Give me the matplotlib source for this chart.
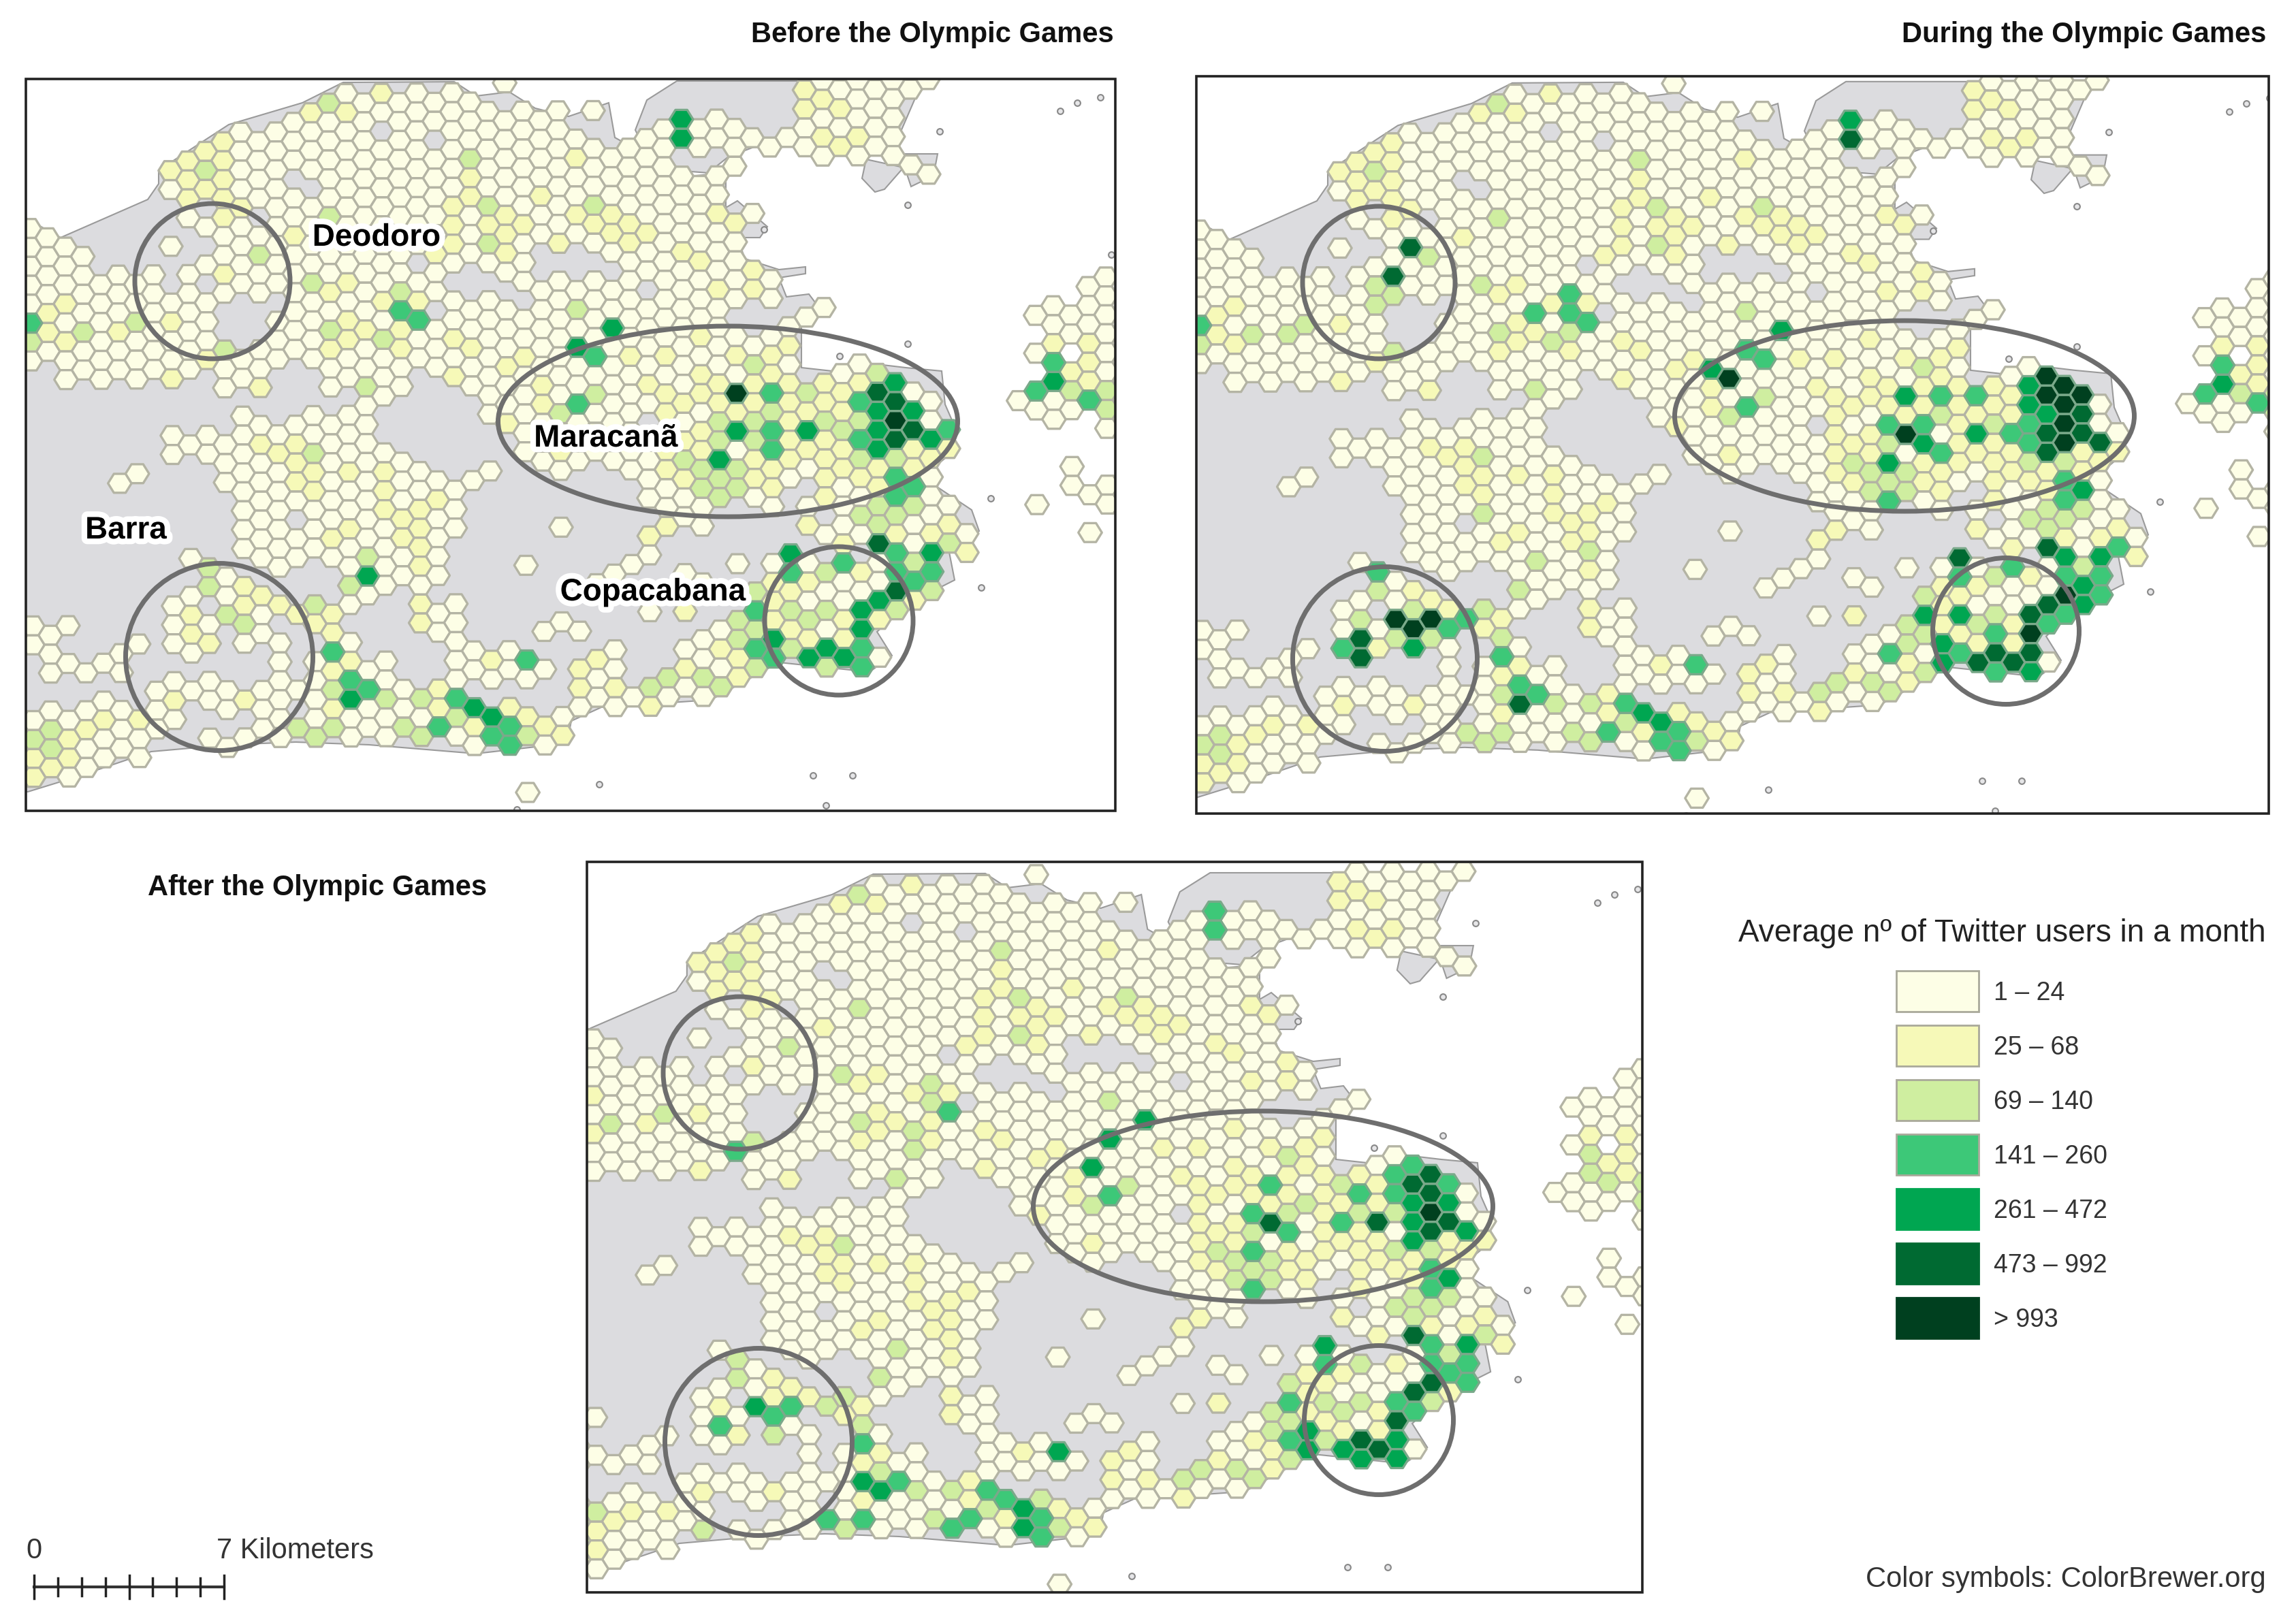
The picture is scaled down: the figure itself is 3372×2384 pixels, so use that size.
import re
import matplotlib
matplotlib.use("Agg")
import matplotlib.pyplot as plt
import matplotlib.patheffects as pe
from matplotlib.collections import PolyCollection
from matplotlib.patches import Ellipse, Polygon, Rectangle

plt.rcParams['font.family'] = ['Liberation Sans', 'DejaVu Sans']

# classes and legend
class_labels = ["1 – 24", "25 – 68", "69 – 140", "141 – 260", "261 – 472", "473 – 992", "> 993"]
class_colors = ["#fdfee6", "#f6f9b8", "#cfeea0", "#3dc878", "#00a651", "#006a32", "#00401f"]

# hex cells present, one entry per grid column: runs of half-row numbers
land_cols = [
    "14-28,56-58,66-72", "15-27,57-61,65-71", "16-30,56,60,66-72", "17-29,61,65-71",
    "20-30,60,64-70", "19-29,41,59-61,65-69", "20-30,40,58,66-70", "19-29,63-67",
    "8-10,16,22-30,36-38,54-58,62-66", "7-13,19-29,37,49,53-59,63",
    "6-10,14,18,22-28,36-38,50-52,56-58,62-64,68", "5-21,27-31,37-41,51-55,63-65,69",
    "4-20,28-30,34-48,52-58,64,68", "5-11,15-21,27-31,35-49,53-57,63-67",
    "4-20,24-28,36-50,54,58-68", "3-7,11-27,35-43,47-49,55,63,67",
    "2-8,12-28,34-48,54-56,60-68", "1-31,35-49,55-67", "0-30,34-54,58-68", "1-53,61-67",
    "0-2,6-32,38-52,60-68", "1-31,39-51,63-67", "0-16,20-28,40-54,56,64-68",
    "1-3,7-21,25-29,41-51,55-57,63-67", "0-18,22-30,42-46,54-68", "1-17,23-31,41,59-61,65-69",
    "2-18,22-34,40,60-62,66-68", "-1,3-19,23-35,59-61,65-69", "2-20,24-38,50,60-62,66-68,74",
    "3-15,21-39,57,61,67-69", "2-16,20-40,46,56,66-68", "5-15,21-39,57,61-65",
    "2,6-16,20-38,52,60-64", "7-17,21-39,51,59-65", "6-40,50,64",
    "5-19,23-33,37-43,47-49,55,63-65", "4-46,62-64", "3-5,9-45,51,55,59-63",
    "4-6,10-46,52,58-64", "3-5,9-43,57-63", "4-8,14-22,26-42,50,56-62",
    "5,13,19-21,27-43,53-61", "6,20-22,26-44,50-60", "5,25-41,49-59",
    "0-6,24,32-40,44-46,50-60", "-1-7,23,31-43,47,51-61", "0-6,30-48,52-60",
    "-1-7,29-47,51-61", "0-6,30-56,60", "-1-7,31-55", "0,8,32-54", "-1,9,33-53",
    "36-38,44-48", "47-49", "", "", "33", "24,28,32-34,44", "23-35",
    "24-26,30-34,40-42", "21-33,43,47", "20-36,42-44",
]

# pale classes shared by the three maps
cells_class2 = [
    (8,8),(9,7),(9,9),(9,11),(10,6),(10,10),(11,5),(11,7),(11,9),(11,11),(11,13),(11,19),(12,12),
    (8,24),(10,28),(8,30),(13,31),(2,22),(1,23),(1,25),(2,26),(5,25),(15,15),(18,20),(17,21),
    (20,22),(22,22),(18,24),(19,25),(17,27),(18,26),(21,25),(21,27),(24,26),(25,27),(28,28),
    (27,29),(24,30),(29,31),(29,33),(27,35),(20,0),(16,2),(18,2),(25,9),(25,11),(24,12),(24,14),
    (24,16),(26,14),(27,13),(27,15),(28,14),(27,17),(29,11),(30,16),(31,7),(23,17),
    (31,13),(33,13),(32,14),(33,15),(34,14),(34,16),(35,15),(37,17),(38,18),(39,13),(36,19),
    (36,21),(39,21),(40,19),(41,21),(40,14),(41,19),(44,0),(44,2),(45,1),(46,2),(45,5),(47,5),(46,6),
    (13,37),(15,37),(15,39),(14,38),(8,64),(10,58),(12,52),(12,54),(9,55),(9,57),(13,53),(14,54),
    (15,55),(16,56),(12,64),(6,66),(4,66),(3,67),(2,68),(2,70),(1,67),(1,71),(0,70),(0,72),
    (17,55),(17,57),(17,61),(17,65),(18,60),(20,40),(20,42),(20,44),(21,45),(21,47),(22,44),
    (22,46),(22,48),(22,50),(23,43),(22,54),(22,56),(15,41),(16,40),(16,42),(18,40),(18,46),
    (19,49),(17,47),(27,65),(26,60),(25,67),(29,67),(30,68),(28,66),(23,63),(23,65),
    (36,46),(35,47),(37,55),(32,60),(31,61),(31,63),(33,63),(37,61),(35,65),(39,59),(40,60),(40,62),
    (42,52),(42,54),(43,53),(46,56),(48,56),(50,54),(42,56),(43,57),(44,52),(44,58),(46,58),
    (47,51),(45,43),(44,46),(46,48),(49,47),(51,47),(52,46),(53,49),(48,42),(59,30),(60,29),(60,31),
    (58,27),(60,27),(30,38),(38,30),(34,28),(35,31),(37,33),(39,31),(41,33),(45,33),(46,34),(44,34),
    (36,28),(36,32),(36,34),(38,26),(38,32),(38,36),(39,33),(40,28),(40,34),(41,31),(42,28),(42,30),
    (42,40),(43,27),(43,31),(43,33),(43,35),(43,37),(44,38),(45,31),(45,37),(46,32),(46,38),(46,40),
    (47,31),(47,41),(48,40),(50,38),(50,40),(51,39),(52,38),(37,37),(37,41),(38,38),(41,39),(41,41),
    (43,39),(45,39),(45,41),(42,42),(44,42),(36,36),(36,38),(36,40),
]
cells_class3 = [
    (10,8),(17,1),(17,13),(13,17),(11,27),(16,20),(3,25),(6,24),(0,26),(17,25),(20,26),(21,21),
    (19,31),(25,7),(26,12),(26,16),(30,34),(16,38),(10,50),(10,52),(12,56),(11,55),(18,52),(19,49),
    (1,67),(1,69),(0,68),(16,54),(17,63),(17,67),(15,67),(16,68),(20,64),(21,67),(22,64),(22,68),
    (24,66),(28,68),(32,12),(31,23),(32,32),(30,34),(41,29),(44,32),(42,34),(41,35),(39,35),(39,37),
    (41,37),(45,35),(46,36),(47,35),(47,39),(49,39),(48,30),(40,40),(37,39),(38,40),(38,42),(39,41),
    (39,43),(40,42),(45,51),(43,55),(45,55),(49,55),(44,56),(43,59),(45,61),(41,53),(41,57),(41,61),
    (40,56),(40,58),(35,63),(36,62),(38,62),(39,63),(48,44),(48,46),(49,45),(50,44),(50,50),(51,53),
    (52,48),(59,32),(61,32),(61,34),(47,45),
]

# stronger classes per map: (column, half-row, class number)
before_cells = [
    (0,24,4),(21,23,4),(22,24,4),(37,3,5),(37,5,5),(33,25,5),(31,27,5),(32,28,4),(40,32,7),(42,32,4),
    (31,33,4),(48,32,6),(49,31,5),(49,33,6),(48,34,5),(50,34,5),(49,35,7),(48,36,5),(50,36,6),(49,37,6),
    (48,38,5),(51,37,5),(47,33,4),(47,37,4),(52,36,4),(40,36,5),(42,36,4),(42,38,4),(44,36,5),(39,39,5),
    (49,41,4),(50,42,4),(49,43,4),(58,29,4),(58,31,5),(57,32,4),(60,33,4),(17,59,4),(18,62,4),(18,64,5),
    (19,63,4),(24,64,4),(25,65,5),(26,66,5),(26,68,4),(27,67,4),(27,69,4),(23,67,4),(28,60,4),(19,51,5),
    (48,48,6),(49,49,4),(51,49,5),(51,51,4),(49,51,4),(50,52,4),(49,53,6),(48,54,5),(47,55,5),(47,57,5),
    (47,59,4),(47,61,4),(45,59,5),(44,60,5),(46,60,5),(42,58,5),(42,60,4),(43,49,5),(43,51,4),(46,50,4),
    (41,55,4),(41,59,4),(13,17,3),
]
during_cells = [
    (30,30,7),(29,29,5),(32,28,4),(31,27,4),(33,25,5),(31,33,4),(40,32,5),(42,32,4),(44,32,4),(47,31,5),
    (48,30,7),(49,31,7),(48,32,7),(50,32,7),(49,33,7),(47,33,5),(48,34,5),(50,34,6),(49,35,7),(47,35,4),
    (48,36,6),(50,36,6),(49,37,7),(51,37,6),(48,38,6),(46,36,4),(47,37,4),(40,36,7),(39,35,4),(41,35,4),
    (41,37,5),(44,36,5),(42,38,4),(39,39,5),(39,43,4),(50,42,5),(49,43,4),(49,41,4),(43,49,6),(48,48,6),
    (49,49,5),(51,49,5),(52,48,4),(49,51,4),(51,51,4),(50,52,5),(49,53,7),(48,54,6),(51,53,4),(50,54,5),
    (47,55,6),(49,55,4),(48,56,4),(47,57,7),(47,59,6),(45,57,4),(45,59,6),(44,60,6),(46,60,6),(45,61,4),
    (47,61,5),(43,55,5),(41,55,5),(42,58,5),(43,59,4),(42,60,5),(39,59,4),(46,50,4),(43,51,4),(28,60,4),
    (12,16,6),(11,19,6),(10,20,3),(11,21,3),(10,22,3),(13,17,3),(0,24,4),(3,25,3),(5,25,3),(6,24,3),
    (21,21,4),(21,23,4),(22,24,4),(19,23,4),(17,25,3),(20,26,3),(21,25,3),(16,20,3),(17,13,3),(19,31,3),
    (26,16,3),(16,38,3),(16,44,3),(22,48,3),(10,50,4),(9,55,3),(11,55,7),(12,56,7),(13,55,7),(9,57,6),
    (9,59,6),(8,58,4),(12,58,5),(14,56,4),(15,55,4),(11,57,3),(13,57,3),(12,54,3),(16,54,3),(17,59,4),
    (17,57,3),(18,62,4),(18,64,6),(19,63,4),(24,64,4),(25,65,5),(26,66,5),(26,68,4),(27,67,4),(27,69,4),
    (23,67,4),(37,3,5),(37,5,6),(58,29,4),(58,31,5),(57,32,4),(60,33,4),
]
after_cells = [
    (49,35,7),(49,31,6),(48,32,6),(49,33,6),(48,30,4),(47,31,4),(47,33,4),(50,32,4),(50,34,5),(48,34,5),
    (48,36,5),(50,36,6),(49,37,6),(48,38,5),(51,37,5),(45,33,4),(46,36,6),(44,36,4),(40,36,6),(39,35,4),
    (40,32,4),(41,37,4),(39,39,4),(39,43,4),(30,30,5),(31,27,5),(33,25,5),(31,33,4),(50,42,5),(49,43,4),
    (49,41,4),(43,49,5),(43,51,4),(41,55,4),(48,48,6),(51,49,5),(49,49,4),(49,51,4),(50,52,4),(51,51,4),
    (51,53,4),(49,53,6),(48,54,6),(47,55,4),(48,56,4),(47,57,6),(47,59,5),(45,59,6),(46,60,6),(44,60,5),
    (45,61,5),(47,61,5),(42,58,5),(42,60,5),(41,59,4),(28,60,5),(26,66,5),(26,68,5),(27,67,4),(27,69,4),
    (10,28,4),(11,27,3),(10,50,3),(11,55,5),(12,56,4),(13,55,4),(9,57,4),(12,58,3),(15,55,3),(16,54,3),
    (17,57,3),(17,59,4),(18,62,3),(17,63,5),(18,64,5),(19,63,4),(20,64,3),(15,67,4),(17,67,4),(24,64,4),
    (25,65,4),(24,66,3),(23,67,4),(22,68,4),(21,67,3),(27,65,3),(28,68,3),(8,68,3),(1,69,3),(2,66,3),
    (0,70,4),(18,52,3),(20,28,3),(20,26,3),(3,25,3),(22,24,4),(21,23,3),(37,3,4),(37,5,4),(58,29,3),(58,31,3),
]

# map outlines, in pixels of the first map
coast_x = [30,39,89,217,233,233,336,444,504,667,699,748,786,835,894,903,939,950,1000,1066,1066,1083,1127,1116,
           1083,1094,1144,1183,1183,1144,1155,1188,1200,1177,1177,1222,1288,1330,1383,1388,1405,1388,1355,1427,
           1438,1394,1402,1333,1288,1310,1277,1144,1044,883,839,833,813,699,542,434,336,222,119,41,30]
coast_y = [321,321,349,293,270,250,183,151,121,120,141,135,159,171,151,202,222,266,260,254,305,295,333,349,
           349,380,396,392,402,408,436,432,448,471,540,545,535,540,545,594,633,673,701,749,
           780,811,852,887,928,963,987,973,1028,1039,1059,1090,1094,1107,1094,1090,1094,1104,1139,1163,1163]
governador_x = [933,950,994,1355,1320,1272,1150,1070,1040,990,950]
governador_y = [191,147,119,119,200,234,200,230,254,250,225]
east_island_x = [1272,1327,1299,1285,1266]
east_island_y = [234,246,278,282,262]
east_island2_x = [1322,1377,1371,1338]
east_island2_y = [226,226,258,274]
islet_x = [1380,1582,1557,1616,1333,961,1122,1632,1333,1233,1455,1441,880,1252,1194,1213,759]
islet_y = [193,151,163,143,301,248,337,374,505,523,732,863,1152,1139,1139,1183,1189]

# panel frames, grid placement
frames = [(38,116,1638,1191), (1757,112,3332,1195), (862,1266,2412,2339)]
grid_x0 = [42, 1759, 816]
grid_y0 = [141, 142, 1304]
grid_dx = [25.9, 25.9, 26.15]
grid_dy = [13.9, 14.0, 13.9]

# hand drawn rings: centre x, centre y, width, height
rings = [
    [(312,413,228,228), (1069,619,675,280), (322,965,275,275), (1232,912,218,218)],
    [(2025,415,224,224), (2797,611,675,280), (2034,968,271,271), (2946,927,215,215)],
    [(1086,1576,224,224), (1855,1772,675,280), (1114,2118,275,275), (2025,2086,219,219)],
]

place_names = ["Deodoro", "Maracanã", "Barra", "Copacabana"]
place_x = [553, 890, 185, 959]
place_y = [349, 644, 779, 870]

def parse_runs(txt):
    out = []
    for m in re.finditer(r"(-?\d+)(?:-(-?\d+))?(?:,|$)", txt):
        a = int(m.group(1))
        b = int(m.group(2)) if m.group(2) else a
        out.extend(range(a, b + 1, 2))
    return out

fig = plt.figure(figsize=(33.72, 23.84), dpi=100)
ax = fig.add_axes([0, 0, 1, 1])
ax.set_xlim(0, 3372)
ax.set_ylim(2384, 0)
ax.axis("off")

def to_panel(i, xs, ys):
    nx = [grid_x0[i] + (x - 42) * grid_dx[i] / 25.9 for x in xs]
    ny = [grid_y0[i] + (y - 141) * grid_dy[i] / 13.9 for y in ys]
    return list(zip(nx, ny))

def draw_map(i, own_cells):
    x1, y1, x2, y2 = frames[i]
    clip = Rectangle((x1, y1), x2 - x1, y2 - y1, transform=ax.transData)

    for xs, ys in [(coast_x, coast_y), (governador_x, governador_y),
                   (east_island_x, east_island_y), (east_island2_x, east_island2_y)]:
        p = Polygon(to_panel(i, xs, ys), closed=True, fc="#dcdcdf", ec="#9a9a9a", lw=1.5, zorder=1)
        ax.add_patch(p)
        p.set_clip_path(clip)
    pts = to_panel(i, islet_x, islet_y)
    s = ax.scatter([p[0] for p in pts], [p[1] for p in pts], s=40, fc="#e6e6e8", ec="#888888", lw=1.5, zorder=1)
    s.set_clip_path(clip)

    cells = {}
    for c, txt in enumerate(land_cols):
        for k in parse_runs(txt):
            cells[(c, k)] = 1
    for c, k in cells_class2:
        if (c, k) in cells:
            cells[(c, k)] = 2
    for c, k in cells_class3:
        if (c, k) in cells:
            cells[(c, k)] = 3
    for c, k, v in own_cells:
        cells[(c, k)] = v

    dx, dy = grid_dx[i], grid_dy[i]
    a = dx / 1.5
    polys, cols, edges = [], [], []
    for (c, k), v in sorted(cells.items(), key=lambda t: t[1]):
        # source maps are turned by a hair against the frame
        cx = grid_x0[i] + c * dx + 0.107 * k
        cy = grid_y0[i] + k * dy - 0.2 * c
        polys.append([(cx - a, cy), (cx - a / 2, cy - dy), (cx + a / 2, cy - dy),
                      (cx + a, cy), (cx + a / 2, cy + dy), (cx - a / 2, cy + dy)])
        cols.append(class_colors[v - 1])
        edges.append("#b4b4a4" if v < 4 else "#7aa98a")
    pc = PolyCollection(polys, facecolors=cols, edgecolors=edges, linewidths=2.4, zorder=2)
    ax.add_collection(pc)
    pc.set_clip_path(clip)

    for cx, cy, w, h in rings[i]:
        e = Ellipse((cx, cy), w, h, fc="none", ec="#6e6e6e", lw=5, zorder=3)
        ax.add_patch(e)

    ax.add_patch(Rectangle((x1, y1), x2 - x1, y2 - y1, fc="none", ec="#222222", lw=2.6, zorder=4))

draw_map(0, before_cells)
draw_map(1, during_cells)
draw_map(2, after_cells)

for name, x, y in zip(place_names, place_x, place_y):
    ax.text(x, y, name, fontsize=33, fontweight="bold", ha="center", va="center", color="black", zorder=5,
            path_effects=[pe.withStroke(linewidth=12, foreground="white")])

# titles
ax.text(1636, 51, "Before the Olympic Games", fontsize=30, fontweight="bold", ha="right", va="center", color="#111111")
ax.text(3328, 51, "During the Olympic Games", fontsize=30, fontweight="bold", ha="right", va="center", color="#111111")
ax.text(217, 1304, "After the Olympic Games", fontsize=30, fontweight="bold", ha="left", va="center", color="#111111")

# legend
ax.text(3328, 1371, "Average nº of Twitter users in a month", fontsize=33, ha="right", va="center", color="#222222")
for i, (lab, col) in enumerate(zip(class_labels, class_colors)):
    y = 1426 + i * 80
    ax.add_patch(Rectangle((2785, y), 121, 60, fc=col, ec="#a9a99a" if i < 4 else col, lw=2))
    ax.text(2928, y + 33, lab, fontsize=27, ha="left", va="center", color="#333333")
ax.text(3328, 2320, "Color symbols: ColorBrewer.org", fontsize=30, ha="right", va="center", color="#333333")

# scale bar
bar_l, bar_r, bar_y = 50, 329, 2331
n_ticks = 9
ax.plot([bar_l, bar_r], [bar_y, bar_y], color="#333333", lw=3)
for t in range(n_ticks):
    tx = bar_l + (bar_r - bar_l) * t / (n_ticks - 1)
    half = 17 if t in (0, 4, 8) else 13
    ax.plot([tx, tx], [bar_y - half, bar_y + half], color="#222222", lw=2.5)
ax.text(50, 2278, "0", fontsize=30, ha="center", va="center", color="#333333")
ax.text(318, 2278, "7 Kilometers", fontsize=30, ha="left", va="center", color="#333333")

fig.savefig("out.png", dpi=100, facecolor="white")
